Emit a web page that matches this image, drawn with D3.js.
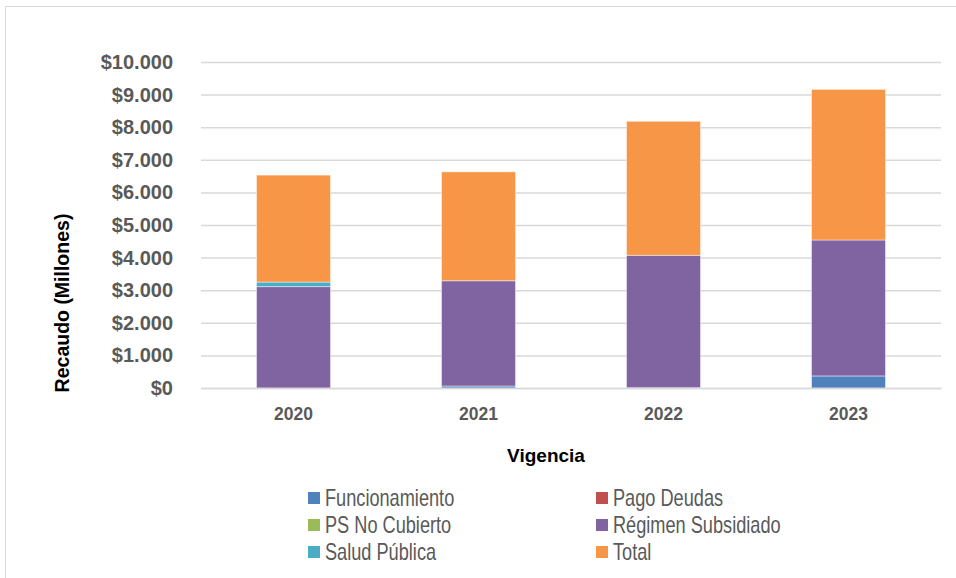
<!DOCTYPE html>
<html>
<head>
<meta charset="utf-8">
<script src="https://cdn.jsdelivr.net/npm/d3@7"></script>
<style>
    html, body { margin: 0; padding: 0; background: #fff; }
    svg { display: block; font-family: "Liberation Sans", Arial, sans-serif; }
</style>
</head>
<body>
<svg id="chart" width="956" height="578"></svg>
<script>
/* global d3 */
'use strict';

const years = ['2020', '2021', '2022', '2023'];
const seriesNames = ['Funcionamiento', 'Pago Deudas', 'PS No Cubierto', 'Régimen Subsidiado', 'Salud Pública', 'Total'];
const funcionamiento = [0, 60, 10, 370];
const pagoDeudas = [0, 0, 0, 0];
const psNoCubierto = [0, 0, 0, 0];
const regimenSubsidiado = [3110, 3230, 4060, 4170];
const saludPublica = [140, 0, 0, 0];
const total = [3280, 3340, 4110, 4620];
const yTicks = [0, 1000, 2000, 3000, 4000, 5000, 6000, 7000, 8000, 9000, 10000];
const colors = ['#4f81bd', '#c0504d', '#9bbb59', '#8064a2', '#4bacc6', '#f79646'];

const svg = d3.select('#chart');

// outer frame of the chart object
svg.append('rect')
    .attr('x', 5.5)
    .attr('y', 6.5)
    .attr('width', 1000)
    .attr('height', 600)
    .attr('fill', 'none')
    .attr('stroke', '#d9d9d9');

const rows = years.map(function(y, i) {
    return {
        year: y,
        'Funcionamiento': funcionamiento[i],
        'Pago Deudas': pagoDeudas[i],
        'PS No Cubierto': psNoCubierto[i],
        'Régimen Subsidiado': regimenSubsidiado[i],
        'Salud Pública': saludPublica[i],
        'Total': total[i]
    };
});

const x = d3.scaleBand()
    .domain(years)
    .range([201, 941])
    .paddingInner(0.6)
    .paddingOuter(0.3);

const y = d3.scaleLinear()
    .domain([0, 10000])
    .range([388, 62]);

const color = d3.scaleOrdinal()
    .domain(seriesNames)
    .range(colors);

//
// Grid lines and y ticks
//
const yAxis = d3.axisLeft(y)
    .tickValues(yTicks)
    .tickSize(-(941 - 201))
    .tickPadding(28)
    .tickFormat(function(d) {
        return '$' + d3.format(',')(d).replace(/,/g, '.');
    });

const gy = svg.append('g')
    .attr('transform', 'translate(201,0)')
    .call(yAxis);
gy.select('.domain').remove();
gy.selectAll('.tick line')
    .attr('stroke', '#d9d9d9')
    .attr('stroke-width', 1.5);
gy.selectAll('.tick text')
    .attr('fill', '#595959')
    .attr('font-size', '20px')
    .attr('font-weight', 'bold')
    .attr('font-family', '"Liberation Sans", Arial, sans-serif');

//
// Stacked bars
//
const stacked = d3.stack().keys(seriesNames)(rows);

svg.append('g')
    .selectAll('g')
    .data(stacked)
    .join('g')
    .attr('fill', function(d) { return color(d.key); })
    .selectAll('rect')
    .data(function(d) { return d.filter(function(p) { return p[1] - p[0] > 0; }); })
    .join('rect')
    .attr('x', function(d) { return x(d.data.year); })
    .attr('y', function(d) { return y(d[1]); })
    .attr('width', x.bandwidth())
    .attr('height', function(d) { return y(d[0]) - y(d[1]); })
    .attr('stroke', 'rgba(255,255,255,0.45)')
    .attr('stroke-width', 1);

//
// x axis
//
const xAxis = d3.axisBottom(x)
    .tickSize(0)
    .tickPadding(20);

const gx = svg.append('g')
    .attr('transform', 'translate(0,388)')
    .call(xAxis);
gx.select('.domain')
    .attr('stroke', '#d9d9d9')
    .attr('stroke-width', 1.5);
gx.selectAll('.tick text')
    .attr('fill', '#595959')
    .attr('font-size', '17.5px')
    .attr('font-weight', 'bold')
    .attr('font-family', '"Liberation Sans", Arial, sans-serif');

//
// Axis titles
//
svg.append('text')
    .attr('x', 546)
    .attr('y', 462)
    .attr('text-anchor', 'middle')
    .attr('font-size', '19px')
    .attr('font-weight', 'bold')
    .attr('fill', '#000')
    .text('Vigencia');

svg.append('text')
    .attr('transform', 'translate(69,303) rotate(-90)')
    .attr('text-anchor', 'middle')
    .attr('font-size', '19.5px')
    .attr('font-weight', 'bold')
    .attr('fill', '#000')
    .text('Recaudo (Millones)');

//
// Legend, two columns
//
const legend = svg.append('g')
    .selectAll('g')
    .data(seriesNames)
    .join('g')
    .attr('transform', function(d, i) {
        const col = i % 2;
        const row = Math.floor(i / 2);
        return 'translate(' + (308 + col * 288) + ',' + (492 + row * 27) + ')';
    });

legend.append('rect')
    .attr('width', 12)
    .attr('height', 12)
    .attr('fill', function(d) { return color(d); });

legend.append('text')
    .attr('transform', 'translate(17,14) scale(0.79,1)')
    .attr('font-size', '23px')
    .attr('fill', '#595959')
    .text(function(d) { return d; });
</script>
</body>
</html>
